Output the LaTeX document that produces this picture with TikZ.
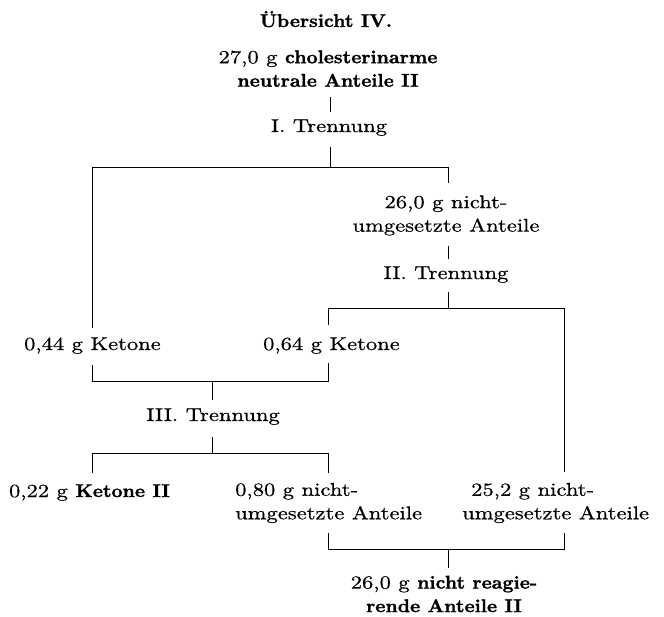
\documentclass[tikz,border=0pt]{standalone}
\usepackage{fontspec}
\setmainfont{lmroman10}[Extension=.otf,UprightFont=*-regular,BoldFont=*-bold,UprightFeatures={FakeStretch=1.22,FakeBold=0.6},BoldFeatures={FakeStretch=1.04,FakeBold=1.2}]
\usepackage{tikz}
\usetikzlibrary{calc}
\tikzset{lbl/.style={inner sep=0pt,font=\fontsize{18.5}{23.5}\selectfont},one/.style={lbl,text height=13pt,text depth=4pt},two/.style={lbl,align=center},ln/.style={line width=0.9pt}}

\begin{document}
\begin{tikzpicture}[x=1pt,y=-1pt]
\useasboundingbox (0,0) rectangle (664,616);
\node[one,anchor=base] (ttl) at (326,27) {\textbf{Übersicht IV.}};
\node[two] (top) at (328,68.6) {27,0 g \textbf{cholesterinarme}\\\textbf{neutrale Anteile II}};
\node[one,anchor=base] (t1) at (329,132) {I. Trennung};
\node[two] (n26) at (446,215.4) {26,0 g nicht-\\umgesetzte Anteile};
\node[one,anchor=base] (t2) at (446,279) {II. Trennung};
\node[one,anchor=base east] (k44) at (161,350) {0,44 g Ketone};
\node[one,anchor=base east] (k64) at (400,350) {0,64 g Ketone};
\node[one,anchor=base] (t3) at (213,421) {III. Trennung};
\node[one,anchor=base east] (k22) at (170,497) {0,22 g \textbf{Ketone II}};
\node[lbl,align=left,anchor=west] (n80) at (235,503) {0,80 g nicht-\\umgesetzte Anteile};
\node[lbl,align=left,anchor=west] (n252) at (462,503) {\hspace*{9pt}25,2 g nicht-\\umgesetzte Anteile};
\node[two] (fin) at (444,594) {26,0 g \textbf{nicht reagie-}\\\textbf{rende Anteile II}};
\coordinate (cL) at (92,0);
\coordinate (cM) at (328,0);
\coordinate (cR) at (564,0);
\coordinate (cT) at (448,0);
\coordinate (cS) at (212,0);
\coordinate (cA) at (330,0);
\coordinate (b1) at (0,167);
\coordinate (b2) at (0,308);
\coordinate (b3) at (0,381);
\coordinate (b4) at (0,453);
\coordinate (b5) at (0,549);
\draw[ln] ($(top.south -| cA)+(0,10)$) -- ($(t1.north -| cA)+(0,-7)$);
\draw[ln] ($(t1.south -| cA)+(0,11)$) -- (cA |- b1);
\draw[ln] ($(k44.north -| cL)+(0,-9)$) |- (b1 -| cT) -- ($(n26.north -| cT)+(0,-12)$);
\draw[ln] ($(n26.south -| cT)+(0,10)$) -- ($(t2.north -| cT)+(0,-7)$);
\draw[ln] ($(t2.south -| cT)+(0,9)$) -- (cT |- b2);
\draw[ln] ($(k64.north -| cM)+(0,-12)$) |- (b2 -| cR) -- ($(n252.north -| cR)+(0,-11)$);
\draw[ln] ($(k44.south -| cL)+(0,11)$) |- (b3 -| cM) -- ($(k64.south -| cM)+(0,9)$);
\draw[ln] (cS |- b3) -- ($(t3.north -| cS)+(0,-8)$);
\draw[ln] ($(t3.south -| cS)+(0,12)$) -- (cS |- b4);
\draw[ln] ($(k22.north -| cL)+(0,-11)$) |- (b4 -| cM) -- ($(n80.north -| cM)+(0,-10)$);
\draw[ln] ($(n80.south -| cM)+(0,10)$) |- (b5 -| cR) -- ($(n252.south -| cR)+(0,10)$);
\draw[ln] (cT |- b5) -- ($(fin.north -| cT)+(0,-8)$);
\end{tikzpicture}
\end{document}
